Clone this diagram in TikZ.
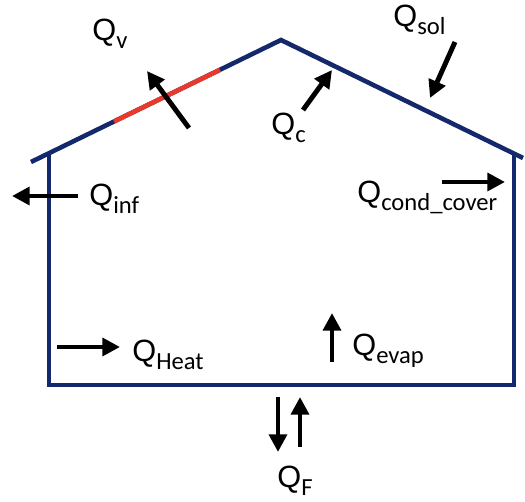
\documentclass[tikz,border=0pt]{standalone}
\usepackage{fontspec}
\setmainfont{Liberation Sans}
\newfontfamily\subfont{Carlito}
\usetikzlibrary{arrows.meta, positioning}
\definecolor{roof-blue}{HTML}{13296B}
\definecolor{vent-red}{HTML}{E8392B}
\newcommand{\heatflux}[1]{Q\raisebox{-0.26em}{\subfont\fontsize{14}{14}\selectfont #1}}

\begin{document}
\begin{tikzpicture}[x=0.02cm, y=-0.02cm,
    wall/.style={draw=roof-blue, line width=2.6pt, line join=miter},
    flow/.style={line width=2.8pt, -{Triangle[length=10pt, width=10pt]}},
    lbl/.style={font=\fontsize{17.5}{18}\selectfont, inner sep=0pt, anchor=base west}]
  \useasboundingbox (0,0) rectangle (525,502);

  % house outline
  \coordinate (eave-l) at (31,162);
  \coordinate (ridge) at (281,40);
  \coordinate (eave-r) at (523,158);
  \coordinate (top-l) at (49,153);
  \coordinate (top-r) at (514,154);
  \coordinate (floor-l) at (49,385);
  \coordinate (floor-r) at (514,385);
  \draw[wall] (eave-l) -- (ridge) -- (eave-r);
  \draw[wall] (top-l) -- (floor-l) -- (floor-r) -- (top-r);

  % vent opening
  \coordinate (vent-a) at (114,121.5);
  \coordinate (vent-b) at (220,69.8);
  \draw[vent-red, line width=2.6pt] (vent-a) -- (vent-b);

  % labels
  \node[lbl] (qv) at (92,41) {\heatflux{v}};
  \node[lbl] (qsol) at (393,27) {\heatflux{sol}};
  \node[lbl] (qc) at (271,135) {\heatflux{c}};
  \node[lbl] (qcond) at (357,203) {\heatflux{cond\_cover}};
  \node[lbl] (qinf) at (89,206) {\heatflux{inf}};
  \node[lbl] (qheat) at (132,362) {\heatflux{Heat}};
  \node[lbl] (qevap) at (352,356) {\heatflux{evap}};
  \node[lbl] (qf) at (277,488) {\heatflux{F}};

  % heat flows
  \coordinate (v-from) at (189,128);
  \coordinate (v-to) at (147,71);
  \coordinate (sol-from) at (455,42);
  \coordinate (sol-to) at (430,98);
  \coordinate (c-from) at (303,110);
  \coordinate (c-to) at (332,70);
  \coordinate (cond-from) at (442,182);
  \coordinate (cond-to) at (505,182);
  \coordinate (inf-from) at (78,196);
  \coordinate (inf-to) at (12,196);
  \coordinate (heat-from) at (57,347);
  \coordinate (heat-to) at (120,347);
  \coordinate (evap-from) at (332,362);
  \coordinate (evap-to) at (332,313);
  \coordinate (fd-from) at (278,397);
  \coordinate (fd-to) at (278,452);
  \coordinate (fu-from) at (300,447);
  \coordinate (fu-to) at (300,397);
  \foreach \f in {v, sol, c, cond, inf, heat, evap, fd, fu}
    \draw[flow] (\f-from) -- (\f-to);
\end{tikzpicture}
\end{document}
